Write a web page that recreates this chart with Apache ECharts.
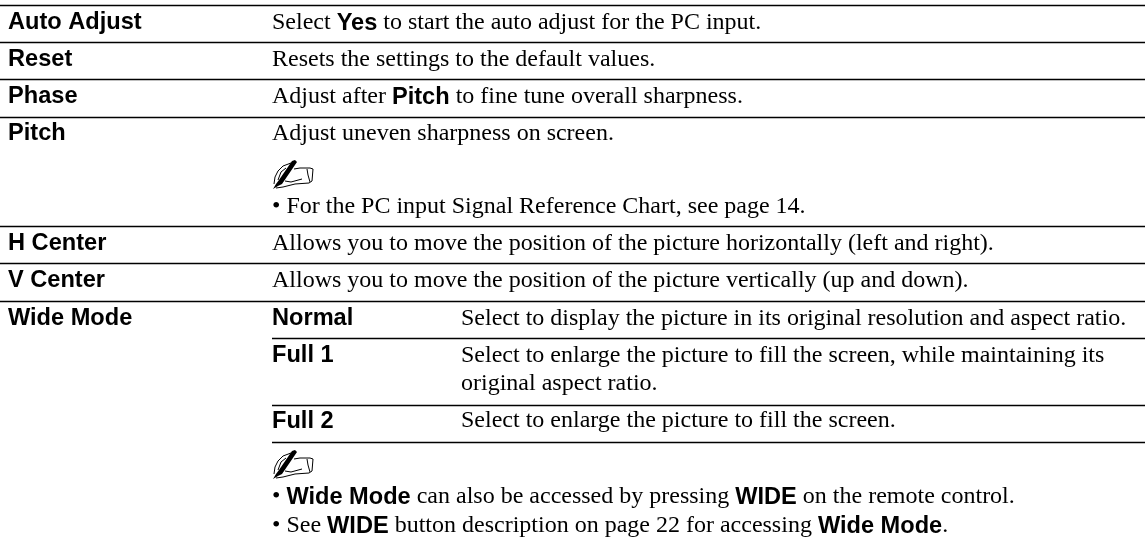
<!DOCTYPE html>
<html>
<head>
<meta charset="utf-8">
<style>html,body{margin:0;padding:0;background:#fff}#main{width:1145px;height:543px}</style>
<script src="https://cdn.jsdelivr.net/npm/echarts@6/dist/echarts.min.js"></script>
</head>
<body>
<div id="main"></div>
<script>
// table text. {b|..} marks the bold sans runs
var rowNames = ['Auto Adjust', 'Reset', 'Phase', 'Pitch', 'H Center', 'V Center', 'Wide Mode'];
var rowDescriptions = [
    'Select {b|Yes} to start the auto adjust for the PC input.',
    'Resets the settings to the default values.',
    'Adjust after {b|Pitch} to fine tune overall sharpness.',
    'Adjust uneven sharpness on screen.',
    'Allows you to move the position of the picture horizontally (left and right).',
    'Allows you to move the position of the picture vertically (up and down).'
];
var wideNames = ['Normal', 'Full 1', 'Full 2'];
var wideDescriptions = [
    'Select to display the picture in its original resolution and aspect ratio.',
    'Select to enlarge the picture to fill the screen, while maintaining its',
    'original aspect ratio.',
    'Select to enlarge the picture to fill the screen.'
];
var pitchNote = '\u2022 For the PC input Signal Reference Chart, see page 14.';
var wideNotes = [
    '\u2022 {b|Wide Mode} can also be accessed by pressing {b|WIDE} on the remote control.',
    '\u2022 See {b|WIDE} button description on page 22 for accessing {b|Wide Mode}.'
];

// layout, all in px of the page
var rowRules = [5, 42, 79, 117, 226, 263, 301];
var wideRules = [338, 405, 442];
var rowBaselines = [29, 66, 103, 140, 250, 287, 325];
var wideBaselines = [325, 362, 428];
var wideDescBaselines = [325, 362, 390, 427];
var pitchNoteBaseline = 213;
var wideNoteBaselines = [503, 532];
var iconTops = [160, 450];
var COL_1 = 8, COL_2 = 272, COL_3 = 461;

var SERIF = '"Liberation Serif","Times New Roman",serif';
var SANS = '"Liberation Sans",Arial,sans-serif';
var SERIF_SIZE = 24, BOLD_SIZE = 23.6;
var SERIF_OFFSET = 6, BOLD_OFFSET = 7;

function serifText(x, baseline, text) {
    return {
        type: 'text', x: x, y: baseline - SERIF_OFFSET,
        style: {
            text: text, fill: '#000', fontFamily: SERIF, fontSize: SERIF_SIZE,
            verticalAlign: 'middle',
            rich: {b: {fontFamily: SANS, fontWeight: 'bold', fontSize: BOLD_SIZE, fill: '#000'}}
        }
    };
}

function boldText(x, baseline, text) {
    return {
        type: 'text', x: x, y: baseline - BOLD_OFFSET,
        style: {
            text: text, fill: '#000', fontFamily: SANS, fontWeight: 'bold', fontSize: BOLD_SIZE,
            verticalAlign: 'middle'
        }
    };
}

function rule(x1, y, x2) {
    return {
        type: 'line', shape: {x1: x1, y1: y + 0.5, x2: x2, y2: y + 0.5},
        style: {stroke: '#000', lineWidth: 1.3}
    };
}

function stroke(points) {
    return {type: 'polyline', shape: {points: points}, style: {stroke: '#000', fill: 'none', lineWidth: 1}};
}

//写字的手
function handIcon(x, y) {
    return {
        type: 'group', x: x, y: y,
        children: [
            {type: 'polygon', shape: {points: [[0, 29], [5, 26], [9, 24], [24, 2], [22, 0], [19, 1], [6, 20], [3, 24]]}, style: {fill: '#000'}},
            stroke([[1, 24], [2, 17], [5, 11], [10, 6], [18, 3]]),
            stroke([[5, 20], [8, 12], [13, 8]]),
            stroke([[21, 9], [27, 8], [37, 8], [40, 9], [39, 21], [36, 23], [22, 24], [10, 27], [3, 28]]),
            stroke([[34, 9], [35, 15], [37, 22]]),
            stroke([[12, 21], [18, 22], [29, 19]])
        ]
    };
}

var elements = [];

rowRules.forEach(function (y) { elements.push(rule(0, y, 1145)); });
wideRules.forEach(function (y) { elements.push(rule(COL_2, y, 1145)); });

rowNames.forEach(function (name, i) { elements.push(boldText(COL_1, rowBaselines[i], name)); });
rowDescriptions.forEach(function (text, i) { elements.push(serifText(COL_2, rowBaselines[i], text)); });
wideNames.forEach(function (name, i) { elements.push(boldText(COL_2, wideBaselines[i], name)); });
wideDescriptions.forEach(function (text, i) { elements.push(serifText(COL_3, wideDescBaselines[i], text)); });

elements.push(serifText(COL_2, pitchNoteBaseline, pitchNote));
wideNotes.forEach(function (text, i) { elements.push(serifText(COL_2, wideNoteBaselines[i], text)); });
iconTops.forEach(function (y) { elements.push(handIcon(COL_2 + 1, y)); });

var myChart = echarts.init(document.getElementById('main'), null, {renderer: 'canvas'});
myChart.setOption({
    animation: false,
    backgroundColor: '#fff',
    graphic: {elements: elements}
});
</script>
</body>
</html>
